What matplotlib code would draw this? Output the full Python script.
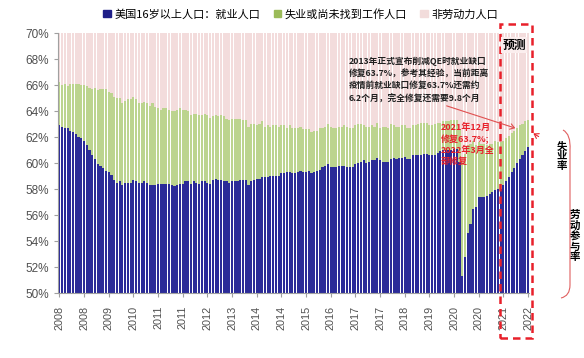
import matplotlib.pyplot as plt
import matplotlib.patches as mpatches
from matplotlib.path import Path
import numpy as np

plt.rcParams['font.family'] = ['Noto Sans CJK SC', 'DejaVu Sans']

# 美国就业率(就业人口/16岁以上人口) 2008-01 ~ 2022-04，2021-07 起为预测
epop = [62.9, 62.8, 62.7, 62.7, 62.5, 62.4, 62.2, 62.0, 61.9, 61.7, 61.4, 61.0,
        60.6, 60.3, 59.9, 59.8, 59.6, 59.4, 59.3, 59.1, 58.7, 58.5, 58.6, 58.3,
        58.5, 58.5, 58.5, 58.7, 58.6, 58.5, 58.5, 58.6, 58.5, 58.3, 58.3, 58.3,
        58.4, 58.4, 58.4, 58.4, 58.4, 58.3, 58.2, 58.3, 58.4, 58.4, 58.6, 58.6,
        58.4, 58.6, 58.5, 58.4, 58.6, 58.6, 58.5, 58.4, 58.7, 58.8, 58.7, 58.7,
        58.6, 58.6, 58.5, 58.6, 58.6, 58.6, 58.7, 58.7, 58.7, 58.3, 58.6, 58.7,
        58.8, 58.8, 58.9, 58.9, 58.9, 59.0, 59.0, 59.0, 59.0, 59.2, 59.2, 59.3,
        59.3, 59.2, 59.2, 59.3, 59.4, 59.3, 59.3, 59.4, 59.2, 59.3, 59.4, 59.5,
        59.7, 59.8, 59.9, 59.7, 59.7, 59.7, 59.8, 59.8, 59.8, 59.7, 59.7, 59.7,
        59.9, 60.0, 60.1, 60.2, 60.0, 60.1, 60.2, 60.2, 60.4, 60.2, 60.1, 60.1,
        60.1, 60.3, 60.4, 60.3, 60.4, 60.4, 60.5, 60.3, 60.3, 60.6, 60.6, 60.6,
        60.6, 60.7, 60.7, 60.6, 60.6, 60.6, 60.8, 60.9, 61.0, 61.0, 61.0, 61.0,
        61.1, 61.1, 60.1, 51.3, 52.8, 54.6, 55.3, 56.5, 56.6, 57.4, 57.4, 57.4,
        57.5, 57.6, 57.8, 57.9, 58.0, 58.0, 58.3, 58.6, 58.9, 59.3, 59.6, 60.0,
        60.3, 60.6, 60.9, 61.2]

# 劳动参与率
lfpr = [66.2, 66.0, 66.1, 65.9, 66.1, 66.1, 66.1, 66.1, 66.0, 66.0, 65.9, 65.8,
        65.7, 65.8, 65.6, 65.7, 65.7, 65.7, 65.5, 65.4, 65.1, 65.0, 65.0, 64.6,
        64.8, 64.9, 64.9, 65.1, 64.9, 64.6, 64.6, 64.7, 64.6, 64.4, 64.6, 64.3,
        64.2, 64.1, 64.2, 64.2, 64.1, 64.0, 64.0, 64.1, 64.2, 64.1, 64.1, 64.0,
        63.7, 63.8, 63.8, 63.7, 63.7, 63.8, 63.7, 63.5, 63.6, 63.7, 63.6, 63.7,
        63.6, 63.4, 63.3, 63.4, 63.4, 63.4, 63.4, 63.3, 63.3, 62.8, 63.0, 63.0,
        62.9, 63.0, 63.2, 62.8, 62.9, 62.8, 62.9, 62.9, 62.8, 62.9, 62.9, 62.7,
        62.9, 62.7, 62.7, 62.7, 62.8, 62.6, 62.6, 62.6, 62.4, 62.5, 62.5, 62.7,
        62.7, 62.8, 63.0, 62.8, 62.7, 62.7, 62.8, 62.8, 62.9, 62.8, 62.7, 62.7,
        62.9, 63.0, 63.0, 62.9, 62.8, 62.8, 62.9, 62.8, 63.1, 62.7, 62.8, 62.8,
        62.7, 63.0, 62.9, 62.8, 62.8, 62.9, 62.9, 62.7, 62.7, 62.9, 62.9, 63.0,
        63.1, 63.1, 63.1, 62.9, 62.9, 63.0, 63.1, 63.1, 63.2, 63.2, 63.2, 63.3,
        63.3, 63.3, 62.6, 60.1, 60.7, 61.4, 61.5, 61.7, 61.4, 61.6, 61.5, 61.5,
        61.4, 61.5, 61.5, 61.7, 61.6, 61.6, 61.7, 61.9, 62.1, 62.3, 62.5, 62.7,
        62.9, 63.0, 63.2, 63.3]

tick_labels = ['2008', '2008', '2009', '2010', '2011', '2011', '2012', '2013',
               '2014', '2014', '2015', '2016', '2017', '2017', '2018', '2019',
               '2020', '2020', '2021', '2022']
tick_step = 9  # 每9个月一个刻度

legend_labels = ['美国16岁以上人口：就业人口', '失业或尚未找到工作人口', '非劳动力人口']

W, H = 584, 358
blue = '#2b2b98'
green = '#bcd48e'
pink = '#f3dcdc'
red = '#e8202a'

def px(x, y):
    return (x / W, 1 - y / H)

epop = np.array(epop)
lfpr = np.array(lfpr)
x = np.arange(len(epop))

fig = plt.figure(figsize=(W / 100, H / 100), dpi=100)
ax = fig.add_axes([58 / W, 65 / H, 471.4 / W, 260 / H])

ax.bar(x, epop, width=0.78, color=blue, linewidth=0)
ax.bar(x, lfpr - epop, bottom=epop, width=0.78, color=green, linewidth=0)
ax.bar(x, 100 - lfpr, bottom=lfpr, width=0.78, color=pink, linewidth=0)

ax.set_xlim(-0.5, len(x) - 0.5)
ax.set_ylim(50, 70)
ax.set_yticks(range(50, 71, 2))
ax.set_yticklabels([f'{v}%' for v in range(50, 71, 2)], family='Liberation Sans',
                   fontsize=8.5, color='#505050')
ax.set_xticks(x[::tick_step])
ax.set_xticklabels(tick_labels, rotation=90, family='Liberation Sans',
                   fontsize=7.8, color='#505050')
ax.tick_params(axis='both', colors='#a0a0a0', length=3, width=0.8, labelcolor='#505050')
ax.tick_params(axis='x', pad=6)
for s in ['top', 'right']:
    ax.spines[s].set_visible(False)
for s in ['left', 'bottom']:
    ax.spines[s].set_color('#a0a0a0')

handles = [mpatches.Patch(color=c) for c in ['#1f1f88', '#9bbb59', '#f2dcdb']]
fig.legend(handles, legend_labels, loc='center', bbox_to_anchor=(0.515, 1 - 14 / H),
           ncol=3, frameon=False, fontsize=8, handlelength=0.7, handleheight=0.7,
           handletextpad=0.3, columnspacing=1.2)

# 预测区域
fig.add_artist(mpatches.Rectangle(px(500, 338), 32 / W, 314 / H, transform=fig.transFigure,
                                  fill=False, ec=red, lw=1.8, ls=(0, (3, 2))))
fig.text(*px(514, 45), '预测', fontsize=8.5, fontweight='bold', ha='center', va='center',
         bbox=dict(boxstyle='square,pad=0.1', fc='#fbeeee', ec='none'))

note = ('2013年正式宣布削减QE时就业缺口\n修复63.7%，参考其经验，当前距离\n'
        '疫情前就业缺口修复63.7%还需约\n6.2个月，完全修复还需要9.8个月')
fig.text(*px(349, 57), note, fontsize=6.3, fontweight='bold', color='#202020',
         ha='left', va='top', linespacing=1.4)
fig.text(*px(441, 123), '2021年12月\n修复63.7%;\n2022年3月全\n部修复', fontsize=6.5,
         fontweight='bold', color=red, ha='left', va='top', linespacing=1.25)

fig.add_artist(mpatches.FancyArrowPatch(px(444, 105), px(518, 129), transform=fig.transFigure,
                                        arrowstyle='->,head_length=3,head_width=2',
                                        color='#e05050', lw=0.8))
fig.add_artist(mpatches.FancyArrowPatch(px(541, 138), px(531, 132), transform=fig.transFigure,
                                        arrowstyle='->,head_length=3,head_width=2',
                                        color=red, lw=0.8))

fig.text(*px(562, 156), '失\n业\n率', fontsize=7.5, fontweight='bold', ha='center',
         va='center', linespacing=1.05)
fig.text(*px(575, 236), '劳\n动\n参\n与\n率', fontsize=7.5, fontweight='bold', ha='center',
         va='center', linespacing=1.05)

verts = [px(563, 130), px(571, 134), px(570, 150), px(570, 285), px(570, 296), px(561, 298)]
codes = [Path.MOVETO, Path.CURVE3, Path.CURVE3, Path.LINETO, Path.CURVE3, Path.CURVE3]
fig.add_artist(mpatches.PathPatch(Path(verts, codes), transform=fig.transFigure,
                                  fill=False, ec='#e06060', lw=0.8))

fig.savefig('out.png', dpi=100)
